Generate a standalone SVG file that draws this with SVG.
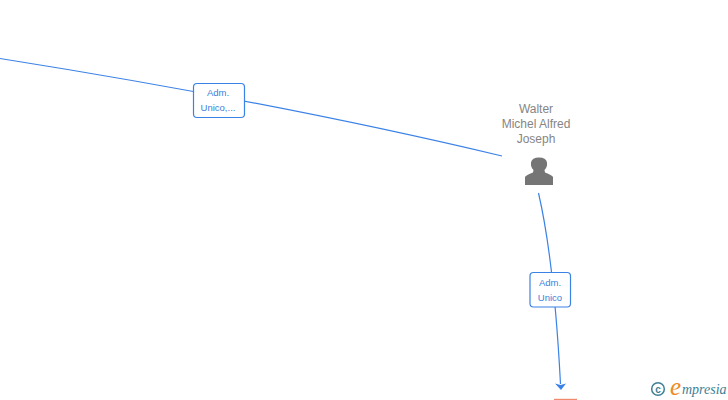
<svg xmlns="http://www.w3.org/2000/svg" width="728" height="400" viewBox="0 0 728 400">
<style>
.c{fill:none;stroke:#3b82e6;stroke-width:1.2}
.b{fill:#fff;stroke:#3b82e6;stroke-width:1.2}
.l{font:9.500px "Liberation Sans",Arial,sans-serif;fill:#3b7fdc;text-anchor:middle}
.n{font:12px "Liberation Sans",Arial,sans-serif;fill:#858585;text-anchor:middle}
</style>
<rect width="728" height="400" fill="#fff"/>
<g id="connectors">
<path class="c" d="M0 58.500Q280 103 502 156"/>
<path class="c" d="M538.500 193Q554 260 560.500 384"/>
<path d="M555 383.500L560.500 385L566 383.500L561 390Z" fill="#3b82e6"/>
</g>
<g id="edge-label-1">
<rect class="b" x="193.500" y="83.500" width="51" height="34" rx="3.500"/>
<text class="l" x="218" y="96">Adm.</text>
<text class="l" x="218" y="111">Unico,...</text>
</g>
<g id="edge-label-2">
<rect class="b" x="530" y="272.500" width="40.500" height="34.500" rx="3.500"/>
<text class="l" x="550" y="286">Adm.</text>
<text class="l" x="550" y="301">Unico</text>
</g>
<g id="person">
<text class="n" x="536" y="113">Walter</text>
<text class="n" x="536" y="128">Michel Alfred</text>
<text class="n" x="536" y="143">Joseph</text>
<path d="M525 185L525 177Q526 175 533 172.500L533.500 170Q530.500 167 531 162.500Q532 157.500 539 157.500Q546 157.500 547 162.500Q547.500 167 544.500 170L545 172.500Q552 175 553 177L553 185Z" fill="#757575"/>
</g>
<g id="target">
<rect x="554" y="398.800" width="23" height="1.200" fill="#f08a6c"/>
</g>
<g id="logo">
<circle cx="658" cy="389" r="6.300" fill="none" stroke="#3d7f96" stroke-width="1.500"/>
<text x="658" y="392.500" font-family="Liberation Sans,sans-serif" font-size="10" font-weight="bold" fill="#3d7f96" text-anchor="middle">c</text>
<text x="670" y="395" font-family="Liberation Serif,serif" font-size="25" font-style="italic" fill="#f08a1c">e</text>
<text x="682" y="394" font-family="Liberation Serif,serif" font-size="14" font-style="italic" fill="#3d7f96">mpresia</text>
</g>
</svg>
